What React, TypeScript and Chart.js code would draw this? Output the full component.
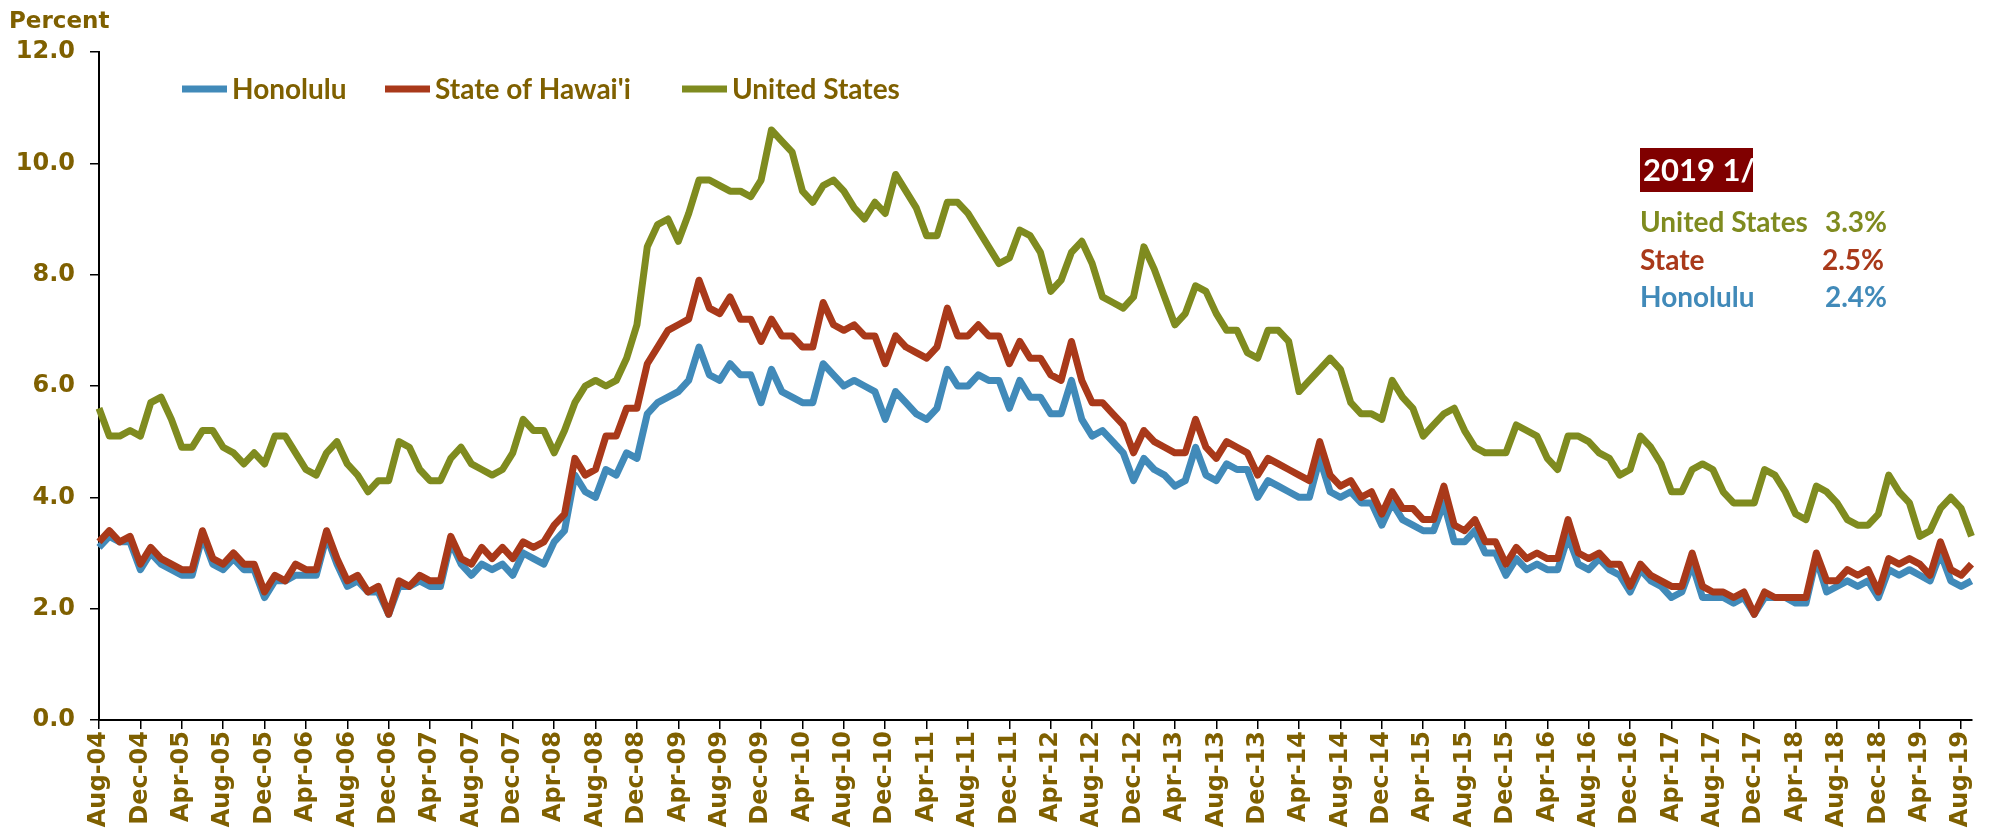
import React, { useEffect, useRef } from 'react';
import { Chart, registerables } from 'chart.js';

Chart.register(...registerables);

// ---------- DATA ----------
const startYear = 2004;
const startMonth = 7; // August (0-based)
const monthNames = ['Jan', 'Feb', 'Mar', 'Apr', 'May', 'Jun', 'Jul', 'Aug', 'Sep', 'Oct', 'Nov', 'Dec'];
const tickEvery = 4;
const yTickStep = 2;
const yMin = 0;
const yMax = 12;

// Honolulu unemployment rate (%), Aug-04 .. Sep-19
const honolulu = [
  3.1, 3.3, 3.2, 3.2, 2.7,
  3.0, 2.8, 2.7, 2.6, 2.6, 3.3, 2.8, 2.7, 2.9, 2.7, 2.7, 2.2,
  2.5, 2.5, 2.6, 2.6, 2.6, 3.3, 2.8, 2.4, 2.5, 2.3, 2.3, 1.9,
  2.4, 2.4, 2.5, 2.4, 2.4, 3.2, 2.8, 2.6, 2.8, 2.7, 2.8, 2.6,
  3.0, 2.9, 2.8, 3.2, 3.4, 4.4, 4.1, 4.0, 4.5, 4.4, 4.8, 4.7,
  5.5, 5.7, 5.8, 5.9, 6.1, 6.7, 6.2, 6.1, 6.4, 6.2, 6.2, 5.7,
  6.3, 5.9, 5.8, 5.7, 5.7, 6.4, 6.2, 6.0, 6.1, 6.0, 5.9, 5.4,
  5.9, 5.7, 5.5, 5.4, 5.6, 6.3, 6.0, 6.0, 6.2, 6.1, 6.1, 5.6,
  6.1, 5.8, 5.8, 5.5, 5.5, 6.1, 5.4, 5.1, 5.2, 5.0, 4.8, 4.3,
  4.7, 4.5, 4.4, 4.2, 4.3, 4.9, 4.4, 4.3, 4.6, 4.5, 4.5, 4.0,
  4.3, 4.2, 4.1, 4.0, 4.0, 4.7, 4.1, 4.0, 4.1, 3.9, 3.9, 3.5,
  3.9, 3.6, 3.5, 3.4, 3.4, 3.9, 3.2, 3.2, 3.4, 3.0, 3.0, 2.6,
  2.9, 2.7, 2.8, 2.7, 2.7, 3.3, 2.8, 2.7, 2.9, 2.7, 2.6, 2.3,
  2.7, 2.5, 2.4, 2.2, 2.3, 2.8, 2.2, 2.2, 2.2, 2.1, 2.2, 1.9,
  2.2, 2.2, 2.2, 2.1, 2.1, 2.9, 2.3, 2.4, 2.5, 2.4, 2.5, 2.2,
  2.7, 2.6, 2.7, 2.6, 2.5, 3.0, 2.5, 2.4, 2.5,
];

// State of Hawai'i unemployment rate (%)
const hawaii = [
  3.2, 3.4, 3.2, 3.3, 2.8,
  3.1, 2.9, 2.8, 2.7, 2.7, 3.4, 2.9, 2.8, 3.0, 2.8, 2.8, 2.3,
  2.6, 2.5, 2.8, 2.7, 2.7, 3.4, 2.9, 2.5, 2.6, 2.3, 2.4, 1.9,
  2.5, 2.4, 2.6, 2.5, 2.5, 3.3, 2.9, 2.8, 3.1, 2.9, 3.1, 2.9,
  3.2, 3.1, 3.2, 3.5, 3.7, 4.7, 4.4, 4.5, 5.1, 5.1, 5.6, 5.6,
  6.4, 6.7, 7.0, 7.1, 7.2, 7.9, 7.4, 7.3, 7.6, 7.2, 7.2, 6.8,
  7.2, 6.9, 6.9, 6.7, 6.7, 7.5, 7.1, 7.0, 7.1, 6.9, 6.9, 6.4,
  6.9, 6.7, 6.6, 6.5, 6.7, 7.4, 6.9, 6.9, 7.1, 6.9, 6.9, 6.4,
  6.8, 6.5, 6.5, 6.2, 6.1, 6.8, 6.1, 5.7, 5.7, 5.5, 5.3, 4.8,
  5.2, 5.0, 4.9, 4.8, 4.8, 5.4, 4.9, 4.7, 5.0, 4.9, 4.8, 4.4,
  4.7, 4.6, 4.5, 4.4, 4.3, 5.0, 4.4, 4.2, 4.3, 4.0, 4.1, 3.7,
  4.1, 3.8, 3.8, 3.6, 3.6, 4.2, 3.5, 3.4, 3.6, 3.2, 3.2, 2.8,
  3.1, 2.9, 3.0, 2.9, 2.9, 3.6, 3.0, 2.9, 3.0, 2.8, 2.8, 2.4,
  2.8, 2.6, 2.5, 2.4, 2.4, 3.0, 2.4, 2.3, 2.3, 2.2, 2.3, 1.9,
  2.3, 2.2, 2.2, 2.2, 2.2, 3.0, 2.5, 2.5, 2.7, 2.6, 2.7, 2.3,
  2.9, 2.8, 2.9, 2.8, 2.6, 3.2, 2.7, 2.6, 2.8,
];

// United States unemployment rate (%)
const unitedStates = [
  5.6, 5.1, 5.1, 5.2, 5.1,
  5.7, 5.8, 5.4, 4.9, 4.9, 5.2, 5.2, 4.9, 4.8, 4.6, 4.8, 4.6,
  5.1, 5.1, 4.8, 4.5, 4.4, 4.8, 5.0, 4.6, 4.4, 4.1, 4.3, 4.3,
  5.0, 4.9, 4.5, 4.3, 4.3, 4.7, 4.9, 4.6, 4.5, 4.4, 4.5, 4.8,
  5.4, 5.2, 5.2, 4.8, 5.2, 5.7, 6.0, 6.1, 6.0, 6.1, 6.5, 7.1,
  8.5, 8.9, 9.0, 8.6, 9.1, 9.7, 9.7, 9.6, 9.5, 9.5, 9.4, 9.7,
  10.6, 10.4, 10.2, 9.5, 9.3, 9.6, 9.7, 9.5, 9.2, 9.0, 9.3, 9.1,
  9.8, 9.5, 9.2, 8.7, 8.7, 9.3, 9.3, 9.1, 8.8, 8.5, 8.2, 8.3,
  8.8, 8.7, 8.4, 7.7, 7.9, 8.4, 8.6, 8.2, 7.6, 7.5, 7.4, 7.6,
  8.5, 8.1, 7.6, 7.1, 7.3, 7.8, 7.7, 7.3, 7.0, 7.0, 6.6, 6.5,
  7.0, 7.0, 6.8, 5.9, 6.1, 6.3, 6.5, 6.3, 5.7, 5.5, 5.5, 5.4,
  6.1, 5.8, 5.6, 5.1, 5.3, 5.5, 5.6, 5.2, 4.9, 4.8, 4.8, 4.8,
  5.3, 5.2, 5.1, 4.7, 4.5, 5.1, 5.1, 5.0, 4.8, 4.7, 4.4, 4.5,
  5.1, 4.9, 4.6, 4.1, 4.1, 4.5, 4.6, 4.5, 4.1, 3.9, 3.9, 3.9,
  4.5, 4.4, 4.1, 3.7, 3.6, 4.2, 4.1, 3.9, 3.6, 3.5, 3.5, 3.7,
  4.4, 4.1, 3.9, 3.3, 3.4, 3.8, 4.0, 3.8, 3.3,
];

const seriesNames = ['Honolulu', "State of Hawai'i", 'United States'];
const annotationTitle = '2019 1/';
const annotationLabels = ['United States', 'State', 'Honolulu'];
const annotationValues = ['3.3%', '2.5%', '2.4%'];
const yAxisTitle = 'Percent';

const monthLabels = honolulu.map((_, i) => {
  const m = (startMonth + i) % 12;
  const y = startYear + Math.floor((startMonth + i) / 12);
  return `${monthNames[m]}-${String(y % 100).padStart(2, '0')}`;
});

// ---------- STYLE ----------
const BLUE = '#418AB9';
const RED = '#A9391A';
const GREEN = '#7F8B1F';
const BROWN = '#7F6000';
const MAROON = '#800000';
const AXIS_FONT = 'DejaVu Sans';
const TEXT_FONT = 'Lato';

const W = 1992;
const H = 833;

const overlayPlugin = {
  id: 'overlayText',
  afterDraw(chart: any) {
    const ctx = chart.ctx as CanvasRenderingContext2D;
    ctx.save();
    // Y axis title
    ctx.fillStyle = BROWN;
    ctx.font = `bold 23px "${AXIS_FONT}"`;
    ctx.textAlign = 'left';
    ctx.textBaseline = 'alphabetic';
    ctx.fillText(yAxisTitle, 9, 28);

    // Legend
    const legendItems = [
      { x: 182, color: BLUE },
      { x: 385, color: RED },
      { x: 682, color: GREEN },
    ];
    const ly = 89;
    ctx.font = `bold 28px "${TEXT_FONT}"`;
    ctx.textBaseline = 'middle';
    legendItems.forEach((it, k) => {
      ctx.strokeStyle = it.color;
      ctx.lineWidth = 7;
      ctx.lineCap = 'butt';
      ctx.beginPath();
      ctx.moveTo(it.x, ly);
      ctx.lineTo(it.x + 45, ly);
      ctx.stroke();
      ctx.fillStyle = BROWN;
      ctx.fillText(seriesNames[k], it.x + 50, ly + 1);
    });

    // Annotation box
    ctx.fillStyle = MAROON;
    ctx.fillRect(1640, 148, 113, 44);
    ctx.fillStyle = '#FFFFFF';
    ctx.font = `bold 31px "${TEXT_FONT}"`;
    ctx.textAlign = 'left';
    ctx.textBaseline = 'middle';
    ctx.fillText(annotationTitle, 1643, 171);

    const rows = [
      { y: 232, color: GREEN, right: 1887 },
      { y: 270, color: RED, right: 1884 },
      { y: 307, color: BLUE, right: 1887 },
    ];
    ctx.font = `bold 28px "${TEXT_FONT}"`;
    ctx.textBaseline = 'alphabetic';
    rows.forEach((r, k) => {
      ctx.fillStyle = r.color;
      ctx.textAlign = 'left';
      ctx.fillText(annotationLabels[k], 1640, r.y);
      ctx.textAlign = 'right';
      ctx.fillText(annotationValues[k], r.right, r.y);
    });
    ctx.restore();
  },
};

export default function App() {
  const canvasRef = useRef<HTMLCanvasElement | null>(null);

  useEffect(() => {
    if (!canvasRef.current) return;
    const chart = new Chart(canvasRef.current, {
      type: 'line',
      data: {
        labels: monthLabels,
        datasets: [
          { label: seriesNames[0], data: honolulu, borderColor: BLUE, backgroundColor: BLUE, order: 2 },
          { label: seriesNames[1], data: hawaii, borderColor: RED, backgroundColor: RED, order: 1 },
          { label: seriesNames[2], data: unitedStates, borderColor: GREEN, backgroundColor: GREEN, order: 0 },
        ],
      },
      options: {
        animation: false,
        responsive: false,
        maintainAspectRatio: false,
        layout: { padding: { top: 52, right: 11, left: 0, bottom: 0 } },
        plugins: { legend: { display: false }, tooltip: { enabled: false }, title: { display: false } },
        elements: {
          point: { radius: 0, hoverRadius: 0 },
          line: { tension: 0, borderWidth: 7, borderJoinStyle: 'round', borderCapStyle: 'butt', fill: false },
        },
        scales: {
          x: {
            type: 'category',
            offset: false,
            grid: { display: true, drawOnChartArea: false, drawTicks: true, tickLength: 9, color: '#000', lineWidth: 1.5 },
            border: { display: true, color: '#000', width: 2 },
            ticks: {
              autoSkip: false,
              maxRotation: 90,
              minRotation: 90,
              padding: 2,
              color: BROWN,
              font: { family: AXIS_FONT, weight: 'bold', size: 24 },
              callback: (_v: any, i: number) => (i % tickEvery === 0 ? monthLabels[i] : null),
            },
            afterFit: (s: any) => { s.height = 113; },
          },
          y: {
            min: yMin,
            max: yMax,
            grid: { display: true, drawOnChartArea: false, drawTicks: true, tickLength: 9, color: '#000', lineWidth: 1.5 },
            border: { display: true, color: '#000', width: 2 },
            ticks: {
              stepSize: yTickStep,
              padding: 15,
              color: BROWN,
              font: { family: AXIS_FONT, weight: 'bold', size: 24 },
              callback: (v: any) => Number(v).toFixed(1),
            },
            afterFit: (s: any) => { s.width = 99; },
          },
        },
      } as any,
      plugins: [overlayPlugin],
    });
    return () => chart.destroy();
  }, []);

  return (
    <div style={{ position: 'absolute', left: 0, top: 0, width: W, height: H, background: '#fff' }}>
      <canvas ref={canvasRef} width={W} height={H} style={{ display: 'block', width: W, height: H }} />
    </div>
  );
}
